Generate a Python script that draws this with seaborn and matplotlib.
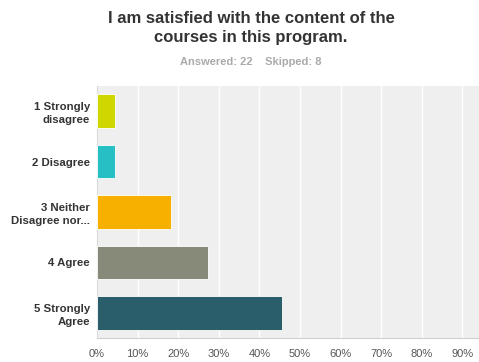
import matplotlib
matplotlib.use('Agg')
import matplotlib.pyplot as plt
import seaborn as sns
import pandas as pd

# Survey responses (share of 22 answers)
answers = ['1 Strongly\ndisagree', '2 Disagree', '3 Neither\nDisagree nor...',
           '4 Agree', '5 Strongly\nAgree']
shares = [1/22, 1/22, 4/22, 6/22, 10/22]
bar_colors = ['#cfd700', '#26c0c4', '#f8b000', '#878a78', '#2b5e6b']
x_ticks = [0, 0.1, 0.2, 0.3, 0.4, 0.5, 0.6, 0.7, 0.8, 0.9, 1.0]
x_labels = ['0%', '10%', '20%', '30%', '40%', '50%', '60%', '70%', '80%', '90%', '100%']

df = pd.DataFrame({'answer': answers, 'share': shares})

sns.set_style('white')
plt.rcParams['font.family'] = ['Liberation Sans', 'DejaVu Sans']

W, H = 479, 362
fig = plt.figure(figsize=(W / 100, H / 100), dpi=100)
# axes runs past the right edge, like the cropped original
ax = fig.add_axes([97 / W, 1 - 338 / H, (503 - 97) / W, (338 - 86) / H])
ax.set_facecolor('#efefef')

sns.barplot(data=df, y='answer', x='share', hue='answer', palette=bar_colors,
            saturation=1, legend=False, width=0.67, edgecolor='#ffffff',
            linewidth=0.6, ax=ax, zorder=3)

ax.set_xlim(0, 1.0)
ax.set_ylim(4.5, -0.5)
ax.set_xticks(x_ticks)
ax.set_xticklabels(x_labels, color='#555555', fontsize=8)
ax.tick_params(axis='x', length=0, pad=8)
ax.tick_params(axis='y', length=0, pad=5, labelsize=8.2, labelcolor='#333333')
for lbl in ax.get_yticklabels():
    lbl.set_fontweight('bold')
    lbl.set_linespacing(1.35)
ax.grid(axis='x', color='white', linewidth=1, zorder=0)
ax.set_axisbelow(True)
ax.set_xlabel('')
ax.set_ylabel('')
for s in ['top', 'right']:
    ax.spines[s].set_visible(False)
ax.spines['left'].set_color('#d8d8d8')
ax.spines['bottom'].set_color('#d0d0d0')

fig.text(251 / W, 1 - 28 / H, 'I am satisfied with the content of the\ncourses in this program.',
         ha='center', va='center', fontsize=12, fontweight='bold', color='#333333',
         linespacing=1.4)
fig.text(251 / W, 1 - 62 / H, 'Answered: 22    Skipped: 8', ha='center', va='center',
         fontsize=8, fontweight='bold', color='#aaaaaa')

fig.savefig('out.png', dpi=100)
